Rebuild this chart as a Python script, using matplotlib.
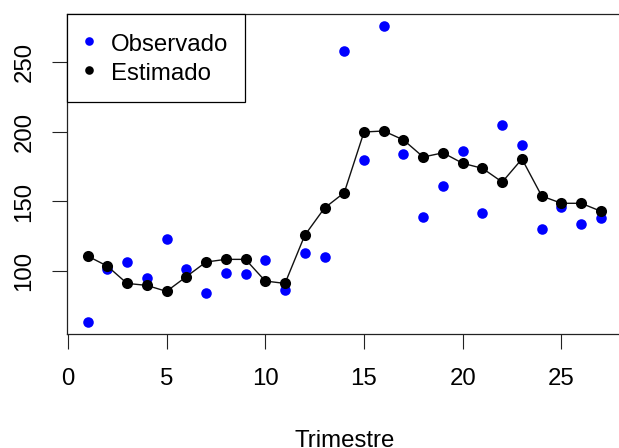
import matplotlib
matplotlib.use("Agg")
import matplotlib.pyplot as plt
from matplotlib.lines import Line2D

plt.rcParams['font.family'] = ['Liberation Sans', 'DejaVu Sans']

trimestre = list(range(1, 28))
observado = [63.7, 101.9, 106.7, 95.2, 123.4, 101.9, 84.7, 99.0, 98.1, 108.4,
             86.6, 113.4, 110.4, 257.7, 179.5, 275.6, 184.0, 138.7, 160.8, 186.1,
             142.0, 204.7, 190.4, 130.1, 146.3, 134.1, 138.4]
estimado = [111.0, 103.8, 91.4, 90.0, 85.7, 96.2, 106.7, 108.6, 108.6, 93.1,
            91.4, 125.8, 145.3, 156.3, 199.7, 200.4, 194.0, 181.8, 184.8, 177.3,
            173.7, 163.9, 180.4, 153.9, 148.7, 148.7, 143.0]
xticks = [0, 5, 10, 15, 20, 25]
yticks = [100, 150, 200, 250]

W, H = 619, 448
fig = plt.figure(figsize=(W / 100, H / 100), dpi=100)
left, right, bottom, top = 67, 621.5, 334, 14
ax = fig.add_axes([left / W, 1 - bottom / H, (right - left) / W, (bottom - top) / H])

fs = 17.3
ax.plot(trimestre, observado, 'o', color='#0000FF', markersize=7.6, markeredgewidth=0, zorder=2)
ax.plot(trimestre, estimado, '-', color='#111111', linewidth=1.0, zorder=3)
ax.plot(trimestre, estimado, 'o', color='black', markersize=8, markeredgewidth=0, zorder=4)

rng_y = max(observado) - min(observado)
ax.set_ylim(min(observado) - 0.04 * rng_y, max(observado) + 0.04 * rng_y)
ax.set_xlim(1 - 0.04 * 26, 27 + 0.04 * 26)

ax.set_xticks(xticks)
ax.set_yticks(yticks)
ax.set_yticklabels([str(v) for v in yticks], rotation=90, va='center')
ax.tick_params(axis='both', direction='out', length=10.8, width=0.8, labelsize=fs, color='#222222')
ax.tick_params(axis='x', pad=14)
ax.tick_params(axis='y', pad=12)
for s in ax.spines.values():
    s.set_linewidth(0.9)
    s.set_color('#222222')

ax.set_xlabel('Trimestre', fontsize=fs, labelpad=28.5)

handles = [Line2D([], [], marker='o', color='#0000FF', linestyle='None', markersize=6.2, markeredgewidth=0),
           Line2D([], [], marker='o', color='black', linestyle='None', markersize=6.2, markeredgewidth=0)]
leg = ax.legend(handles, ['Observado', 'Estimado'], loc='upper left', fontsize=fs,
                borderaxespad=0, fancybox=False, framealpha=1, edgecolor='black',
                borderpad=0.7, labelspacing=0.17, handlelength=0.42, handleheight=1.17,
                handletextpad=0.72)
leg.get_frame().set_linewidth(0.9)

fig.savefig('out.png', dpi=100)
